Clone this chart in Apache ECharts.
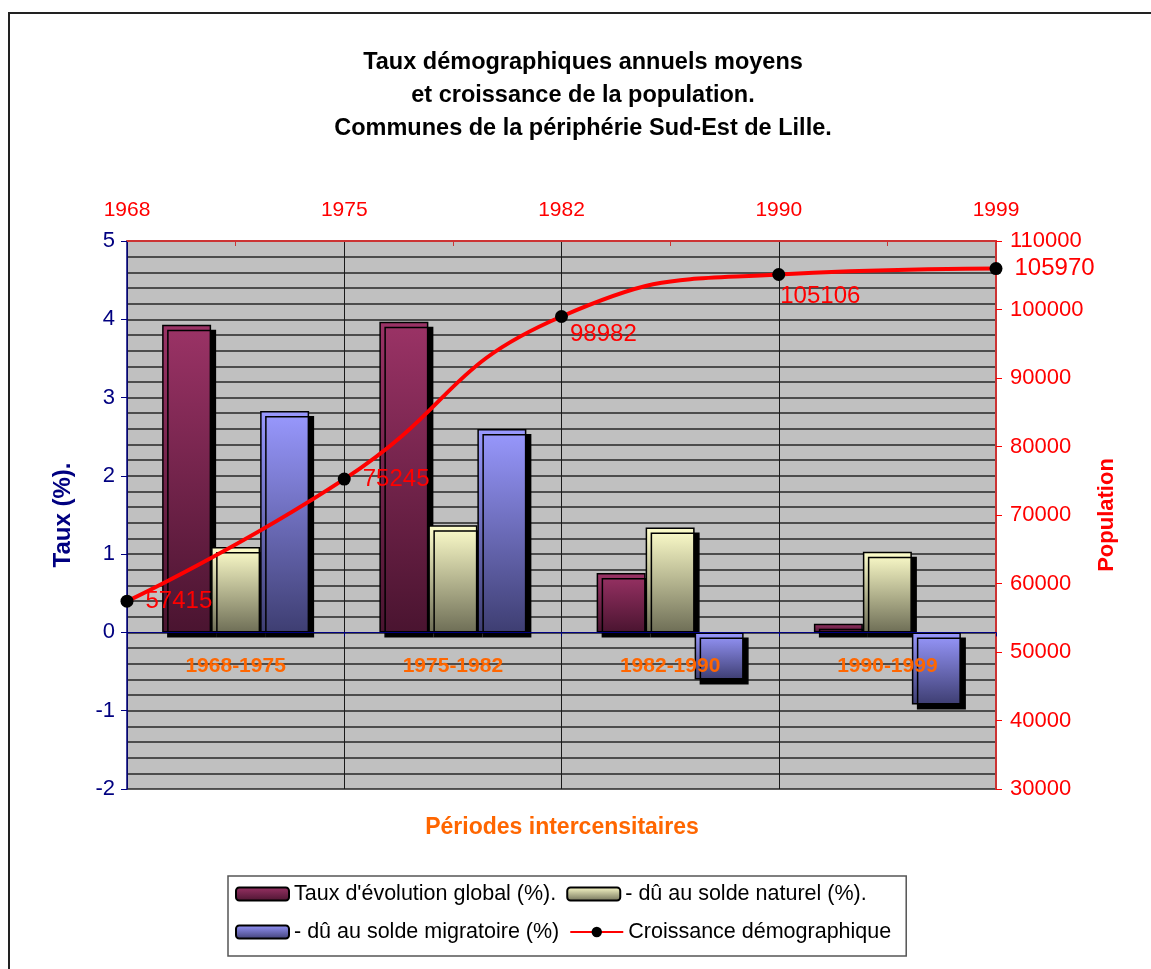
<!DOCTYPE html>
<html>
<head>
<meta charset="utf-8">
<title>Taux démographiques - périphérie Sud-Est de Lille</title>
<script src="https://cdn.jsdelivr.net/npm/echarts@6/dist/echarts.min.js"></script>
<style>
html, body { margin: 0; padding: 0; background: #fff; }
#main { width: 1151px; height: 969px; }
</style>
</head>
<body>
<div id="main"></div>
<script>
// périodes intercensitaires (axe du bas)
var periodes = ['1968-1975', '1975-1982', '1982-1990', '1990-1999'];
// taux annuels moyens (%)
var tauxGlobal = [3.93, 3.97, 0.76, 0.11];
var soldeNaturel = [1.09, 1.37, 1.34, 1.03];
var soldeMigratoire = [2.83, 2.60, -0.60, -0.92];
// recensements (axe du haut) et population
var annees = ['1968', '1975', '1982', '1990', '1999'];
var population = [57415, 75245, 98982, 105106, 105970];
// bornes des axes
var tauxMin = -2, tauxMax = 5, tauxPas = 1;
var popMin = 30000, popMax = 110000, popPas = 10000;

var police = '"Liberation Sans", Arial, sans-serif';

function degrade(haut, bas) {
	return new echarts.graphic.LinearGradient(0, 0, 0, 1, [
		{offset: 0, color: haut},
		{offset: 1, color: bas}
	]);
}

function barre(nom, data, haut, bas) {
	return {
		name: nom,
		type: 'bar',
		xAxisIndex: 0,
		yAxisIndex: 0,
		barWidth: 49,
		barGap: '0%',
		itemStyle: {
			color: degrade(haut, bas),
			borderColor: '#000',
			borderWidth: 1.5,
			shadowColor: '#000',
			shadowBlur: 0,
			shadowOffsetX: 5,
			shadowOffsetY: 5
		},
		data: data
	};
}

// position des étiquettes de population
var posEtiq = ['right', 'right', [15, 12], [8, 16], 'right'];

var myChart = echarts.init(document.getElementById('main'));

var option = {
	animation: false,
	textStyle: {fontFamily: police},
	title: {
		text: 'Taux démographiques annuels moyens\net croissance de la population.\nCommunes de la périphérie Sud-Est de Lille.',
		left: 583,
		top: 46,
		textAlign: 'center',
		padding: 0,
		textStyle: {fontSize: 23.5, fontWeight: 'bold', color: '#000', lineHeight: 33, fontFamily: police}
	},
	legend: {
		left: 228,
		top: 876,
		width: 700,
		orient: 'horizontal',
		padding: [4, 15, 10, 7],
		itemGap: 10,
		itemWidth: 53,
		itemHeight: 13,
		borderColor: '#555',
		borderWidth: 1.5,
		textStyle: {fontSize: 21.5, color: '#000', lineHeight: 28, fontFamily: police},
		data: ["Taux d'évolution global (%).", '- dû au solde naturel (%).', '- dû au solde migratoire (%)', 'Croissance démographique']
	},
	grid: {
		left: 127,
		right: 155,
		top: 241,
		bottom: 180,
		show: true,
		backgroundColor: '#c0c0c0',
		borderWidth: 0,
		containLabel: false
	},
	graphic: [
		{
			type: 'rect',
			silent: true,
			shape: {x: 9, y: 13, width: 1200, height: 1000},
			style: {fill: 'none', stroke: '#222', lineWidth: 2}
		},
		{
			type: 'text',
			silent: true,
			x: 562,
			y: 828,
			style: {
				text: 'Périodes intercensitaires',
				fill: '#ff6600',
				font: 'bold 23px ' + police,
				textAlign: 'center',
				textVerticalAlign: 'middle'
			}
		}
	],
	xAxis: [
		{
			// périodes : axe sur le zéro, étiquettes au-dessus des barres
			type: 'category',
			data: periodes,
			position: 'bottom',
			z: 10,
			axisLine: {show: true, onZero: true, lineStyle: {color: '#000080', width: 1}},
			axisTick: {show: true, length: 4, lineStyle: {color: '#000080'}},
			// les étiquettes restent au bas de la grille : on les remonte sous le zéro
			axisLabel: {color: '#ff6600', fontWeight: 'bold', fontSize: 21, margin: -133},
			splitLine: {show: false}
		},
		{
			// années de recensement : grille verticale
			type: 'value',
			position: 'top',
			min: 0,
			max: annees.length - 1,
			interval: 1,
			axisLine: {show: true, onZero: false, lineStyle: {color: '#cc3333', width: 2}},
			axisTick: {show: false, inside: true},
			minorTick: {show: true, splitNumber: 2, length: 5, lineStyle: {color: '#cc3333', width: 1}},
			axisLabel: {
				color: '#ff0000',
				fontSize: 21,
				margin: 20,
				formatter: function (v) { return annees[v]; }
			},
			splitLine: {show: true, lineStyle: {color: '#1a1a1a', width: 1}}
		}
	],
	yAxis: [
		{
			type: 'value',
			position: 'left',
			min: tauxMin,
			max: tauxMax,
			interval: tauxPas,
			name: 'Taux (%).',
			nameLocation: 'middle',
			nameRotate: 90,
			nameGap: 52,
			nameTextStyle: {color: '#000080', fontWeight: 'bold', fontSize: 24},
			axisLine: {show: true, onZero: false, lineStyle: {color: '#000080', width: 1.5}},
			axisTick: {show: true, length: 6, lineStyle: {color: '#000080'}},
			axisLabel: {color: '#000080', fontSize: 22, margin: 12},
			splitLine: {show: true, lineStyle: {color: '#262626', width: 1.5}},
			minorTick: {show: false, splitNumber: 5},
			minorSplitLine: {show: true, lineStyle: {color: '#262626', width: 1.5}}
		},
		{
			type: 'value',
			position: 'right',
			min: popMin,
			max: popMax,
			interval: popPas,
			name: 'Population',
			nameLocation: 'middle',
			nameRotate: 90,
			nameGap: 100,
			nameTextStyle: {color: '#ff0000', fontWeight: 'bold', fontSize: 22},
			axisLine: {show: true, onZero: false, lineStyle: {color: '#cc3333', width: 2}},
			axisTick: {show: true, length: 6, lineStyle: {color: '#ff0000'}},
			axisLabel: {
				color: '#ff0000',
				fontSize: 22,
				margin: 14,
				formatter: function (v) { return String(v); }
			},
			splitLine: {show: false}
		}
	],
	series: [
		barre("Taux d'évolution global (%).", tauxGlobal, '#9b3366', '#4a1430'),
		barre('- dû au solde naturel (%).', soldeNaturel, '#ffffcc', '#6e6e56'),
		barre('- dû au solde migratoire (%)', soldeMigratoire, '#9999ff', '#3e3e72'),
		{
			name: 'Croissance démographique',
			type: 'line',
			xAxisIndex: 1,
			yAxisIndex: 1,
			smooth: true,
			symbol: 'circle',
			symbolSize: 13,
			z: 12,
			itemStyle: {color: '#000'},
			lineStyle: {color: '#ff0000', width: 4},
			label: {
				show: true,
				color: '#ff0000',
				fontSize: 24,
				position: 'right',
				distance: 12,
				formatter: function (p) { return p.value[1]; }
			},
			data: population.map(function (v, i) {
				return {value: [i, v], label: {position: posEtiq[i]}};
			})
		}
	]
};

myChart.setOption(option);
</script>
</body>
</html>
